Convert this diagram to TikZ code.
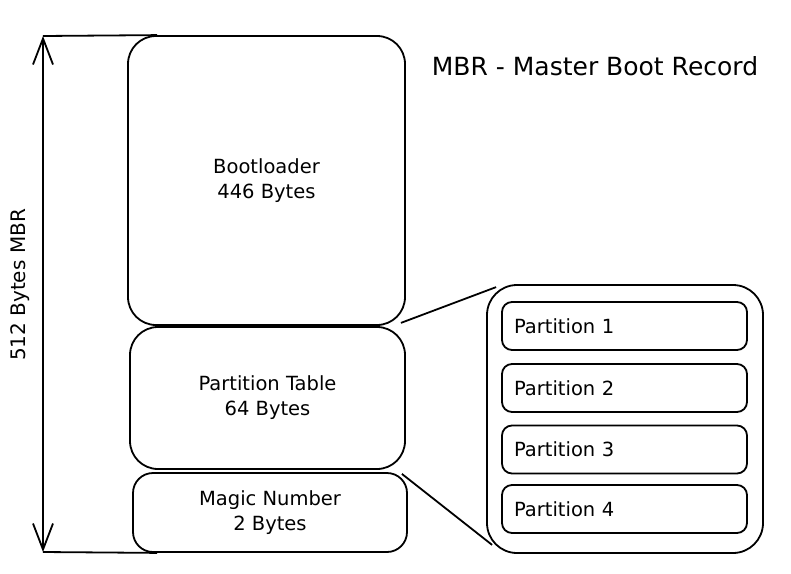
\documentclass[tikz,border=0pt]{standalone}
\usepackage{fontspec}
\setmainfont{DejaVu Sans}
\usetikzlibrary{arrows.meta}

\begin{document}
\begin{tikzpicture}[x=1pt,y=-1pt,
    block/.style={draw, line width=1.8pt, rounded corners=28pt, align=center, font=\fontsize{19.5}{25}\selectfont},
    part/.style={draw, line width=1.8pt, rounded corners=10pt, minimum height=48pt, text width=221pt, inner xsep=12pt, align=left, font=\fontsize{19.5}{22}\selectfont},
    barb/.style={line width=1.8pt, {Straight Barb[length=26pt,width=20pt]}-{Straight Barb[length=26pt,width=20pt]}}]
                \useasboundingbox (0,0) rectangle (791,573);

                \node[font=\fontsize{25}{28}\selectfont] (title) at (595,66) {MBR - Master Boot Record};

                \node[block, minimum width=277pt, minimum height=289pt] (boot) at (266.5,180.5) {Bootloader\\446 Bytes};
                \node[block, minimum width=275pt, minimum height=142pt] (ptable) at (267.5,398) {Partition Table\\64 Bytes};
                \node[block, rounded corners=20pt, minimum width=274pt, minimum height=79pt] (magic) at (270,512.5) {Magic Number\\2 Bytes};

                \node[block, rounded corners=30pt, minimum width=276pt, minimum height=268pt] (parts) at (625,419) {};
                \foreach \i/\y in {1/326,2/388,3/449.5,4/509}
                    \node[part] (p\i) at (624.5,\y) {Partition \i};

                \node[rotate=90, font=\fontsize{20}{22}\selectfont] (size) at (20,285) {512 Bytes MBR};
                \coordinate (top) at (43,36);
                \coordinate (bot) at (43,552);
                \draw[barb] (top) -- (bot);
                \draw[line width=1.8pt] (top) -- ([xshift=30pt]boot.north west);
                \draw[line width=1.8pt] (bot) -- ([xshift=25pt]magic.south west);

                \draw[line width=1.8pt] ([shift={(-5,-3)}]boot.south east) -- ([shift={(10,3)}]parts.north west);
                \draw[line width=1.8pt] ([shift={(-4,4)}]ptable.south east) -- ([shift={(6,-9)}]parts.south west);
            \end{tikzpicture}
\end{document}
